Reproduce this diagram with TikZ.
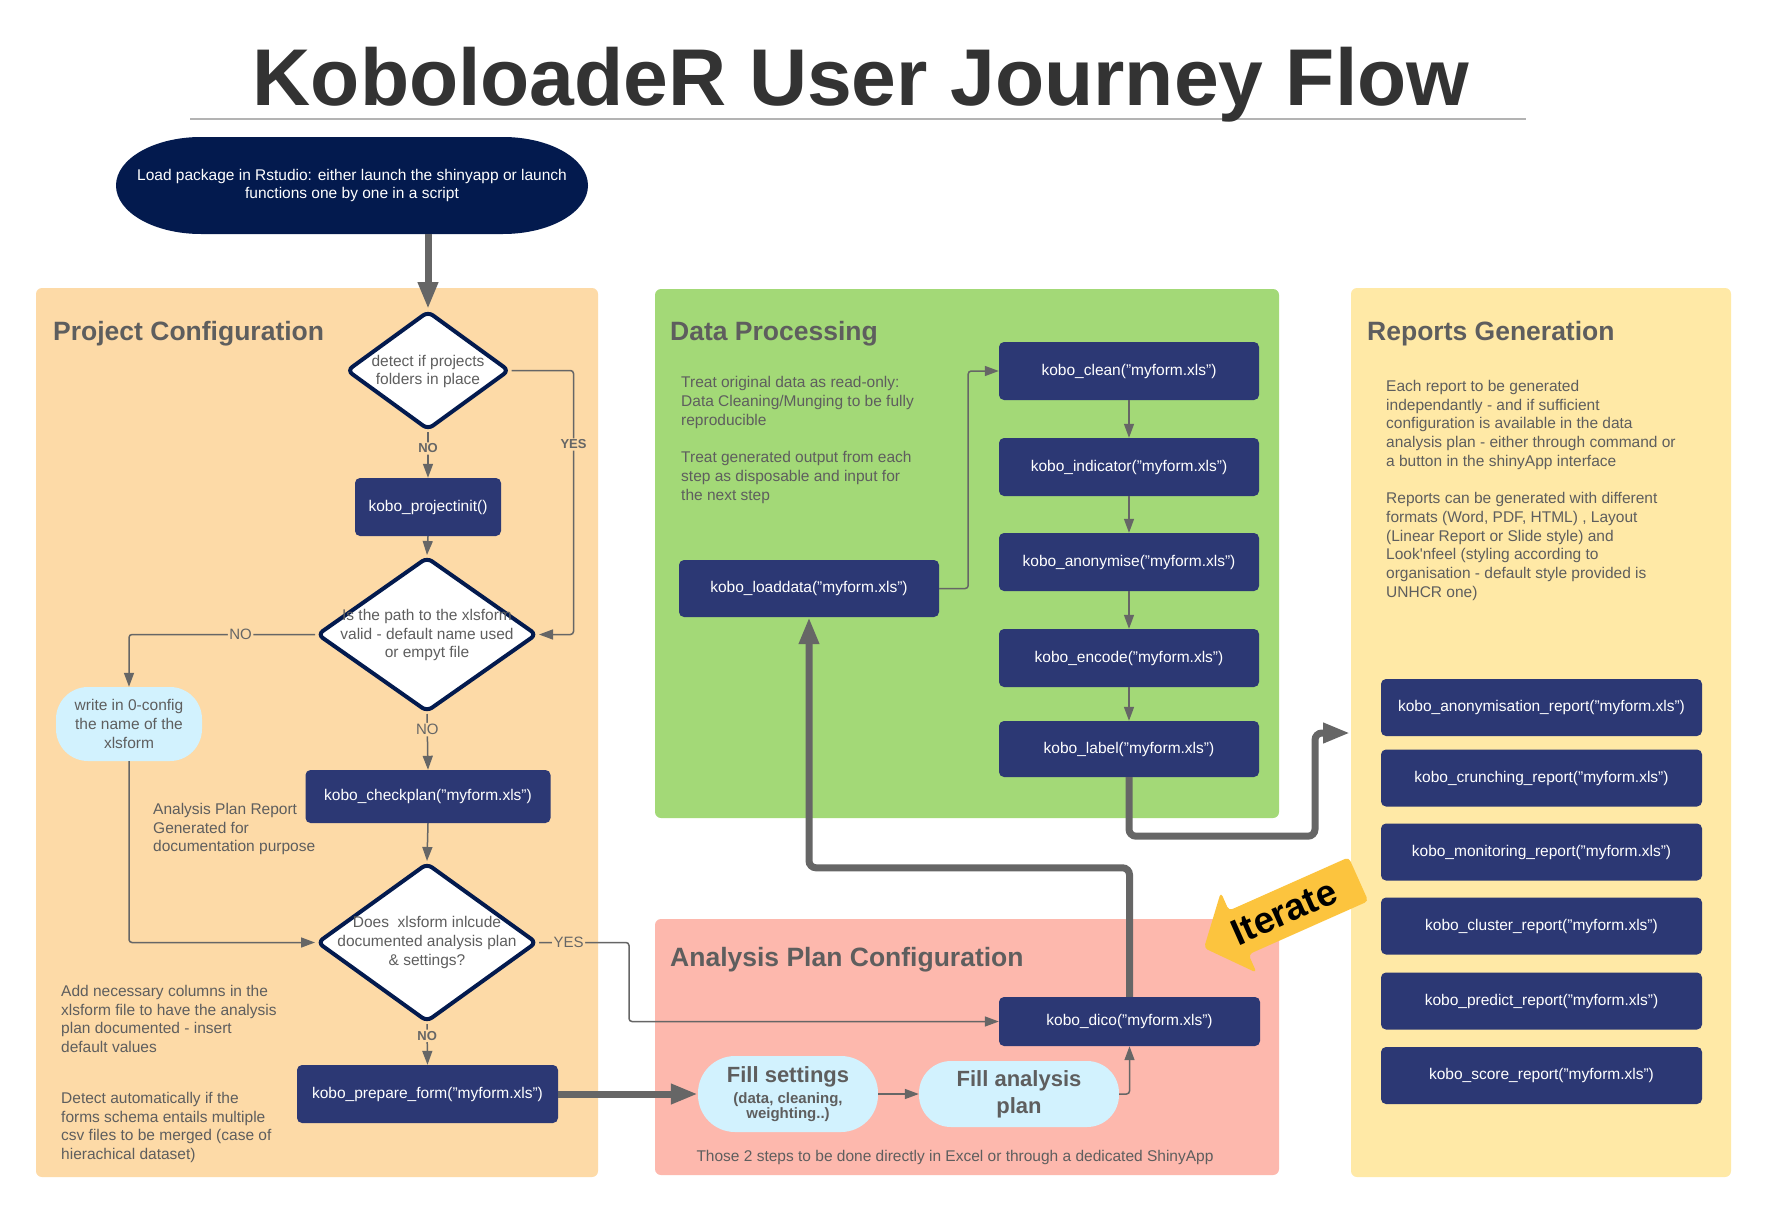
\documentclass[tikz,border=0pt]{standalone}
\usepackage{fontspec}
\setmainfont{Liberation Sans}
\usetikzlibrary{shapes.geometric,arrows.meta,calc}
\definecolor{navy}{HTML}{031A4E}
\definecolor{kblue}{HTML}{2C3874}
\definecolor{peach}{HTML}{FDDAA7}
\definecolor{pgreen}{HTML}{A3D977}
\definecolor{salmon}{HTML}{FDB8AD}
\definecolor{pyellow}{HTML}{FFE9A6}
\definecolor{lblue}{HTML}{D2F2FE}
\definecolor{lgray}{HTML}{666666}
\definecolor{tgray}{HTML}{5E5E5E}
\definecolor{iteratey}{HTML}{FCC43E}
\definecolor{ulgray}{HTML}{B3B3B3}
\definecolor{titlegray}{HTML}{333333}
\newcommand{\fsz}{\fontsize{15.5}{18.7}\selectfont}
\newcommand{\fsmall}{\fontsize{15}{19}\selectfont}
\begin{document}
\begin{tikzpicture}[x=1pt,y=-1pt,
  kbox/.style={rectangle, fill=kblue, rounded corners=5, text=white, font=\fsz, inner sep=0, align=center},
  dia/.style={diamond, draw=navy, line width=4, fill=white, rounded corners=6, inner sep=0},
  dtxt/.style={text=tgray, font=\fontsize{15.5}{18.7}\selectfont, align=center, inner sep=0},
  stad/.style={rectangle, fill=lblue, text=tgray, inner sep=0, align=center},
  head/.style={font=\fontsize{26.5}{30}\selectfont\bfseries, text=tgray, inner sep=0},
  body/.style={font=\fsz, text=tgray, inner sep=0, align=left, anchor=north west},
  lbl/.style={fill=peach, inner sep=1.5, text=lgray, font=\fontsize{15}{15}\selectfont},
  lblb/.style={fill=peach, inner sep=1.5, text=lgray, font=\fontsize{13}{13}\selectfont\bfseries},
  thn/.style={draw=lgray, line width=1.5, rounded corners=3, -{Triangle[length=14,width=10]}},
  thk/.style={draw=lgray, line width=7, rounded corners=7, -{Triangle[length=27,width=19]}},
]
\useasboundingbox (0,0) rectangle (1769,1215);
\fill[white] (0,0) rectangle (1769,1215);

% title
\draw[ulgray, line width=2] (190,118.5) -- (1526,118.5);
\node[font=\fontsize{80.5}{90}\selectfont\bfseries, text=titlegray, anchor=base, inner sep=0] (title) at (861,105) {KoboloadeR User Journey Flow};

% panels
\fill[peach, rounded corners=6] (36,288) rectangle (598,1177);
\fill[pgreen, rounded corners=6] (655,289) rectangle (1279,818);
\fill[salmon, rounded corners=6] (655,919) rectangle (1279,1175);
\fill[pyellow, rounded corners=6] (1351,288) rectangle (1731,1177);

\node[head, anchor=base west] (hpc) at (53,340) {Project Configuration};
\node[head, anchor=base west] (hdp) at (670,340) {Data Processing};
\node[head, anchor=base west] (hap) at (670,966) {Analysis Plan Configuration};
\node[head, anchor=base west] (hrg) at (1367,340) {Reports Generation};

% start
\fill[navy] (201,137) -- (503,137) arc[start angle=-90, end angle=90, x radius=85, y radius=48.5] -- (201,234) arc[start angle=90, end angle=270, x radius=85, y radius=48.5] -- cycle;
\node[minimum width=472, minimum height=97, inner sep=0, text=white, align=center, font=\fontsize{15.5}{18}\selectfont] (start) at (352,185.5) {Load package in Rstudio: either launch the shinyapp or launch\\functions one by one in a script};

% project configuration
\node[dia, minimum width=163, minimum height=119] (d1) at (428,370.5) {};
\node[dtxt] (d1t) at (428,371.5) {detect if projects\\folders in place};
\node[kbox, minimum width=146, minimum height=58] (pinit) at (428,507) {kobo\_projectinit()};
\node[dia, minimum width=220, minimum height=155] (d2) at (427,634.5) {};
\node[dtxt] (d2t) at (427,635) {Is the path to the xlsform\\valid - default name used\\or empyt file};
\node[stad, rounded corners=32, minimum width=146, minimum height=74, font=\fontsize{15.5}{19}\selectfont] (wr) at (129,724) {write in 0-config\\the name of the\\xlsform};
\node[kbox, minimum width=245, minimum height=53] (chk) at (428,796.5) {kobo\_checkplan("myform.xls")};
\node[body] (tapr) at (153,803) {Analysis Plan Report\\Generated for\\documentation purpose};
\node[dia, minimum width=220, minimum height=159] (d3) at (427,942.5) {};
\node[dtxt] (d3t) at (427,942.5) {Does~ xlsform inlcude\\documented analysis plan\\\& settings?};
\node[kbox, minimum width=261, minimum height=58] (prep) at (427.5,1094) {kobo\_prepare\_form("myform.xls")};
\node[body] (tadd) at (61,985) {Add necessary columns in the\\xlsform file to have the analysis\\plan documented - insert\\default values};
\node[body] (tdet) at (61,1092) {Detect automatically if the\\forms schema entails multiple\\csv files to be merged (case of\\hierachical dataset)};

% data processing
\node[body] (tdp) at (681,376.5) {Treat original data as read-only:\\Data Cleaning/Munging to be fully\\reproducible\\[18.7pt]Treat generated output from each\\step as disposable and input for\\the next step};
\node[kbox, minimum width=260, minimum height=57] (ld) at (809,588.5) {kobo\_loaddata("myform.xls")};
\node[kbox, minimum width=260, minimum height=58] (clean) at (1129,371) {kobo\_clean("myform.xls")};
\node[kbox, minimum width=260, minimum height=58] (ind) at (1129,467) {kobo\_indicator("myform.xls")};
\node[kbox, minimum width=260, minimum height=58] (anon) at (1129,562) {kobo\_anonymise("myform.xls")};
\node[kbox, minimum width=260, minimum height=58] (enc) at (1129,658) {kobo\_encode("myform.xls")};
\node[kbox, minimum width=260, minimum height=56] (lab) at (1129,749) {kobo\_label("myform.xls")};

% analysis plan
\node[kbox, minimum width=261, minimum height=49] (dico) at (1129.5,1021.5) {kobo\_dico("myform.xls")};
\node[stad, rounded corners=37, minimum width=180, minimum height=76, font=\bfseries] (fs) at (788,1094) {\fontsize{22}{24}\selectfont Fill settings\\[5pt]\fsmall (data, cleaning,\\\fsmall weighting..)};
\node[stad, rounded corners=32, minimum width=200, minimum height=66, font=\fontsize{22}{27}\selectfont\bfseries] (fa) at (1019,1094) {Fill analysis\\plan};
\node[font=\fsz, text=tgray, inner sep=0] (tthose) at (955,1157) {Those 2 steps to be done directly in Excel or through a dedicated ShinyApp};

% reports
\node[body] (trg) at (1386,380) {Each report to be generated\\independantly - and if sufficient\\configuration is available in the data\\analysis plan - either through command or\\a button in the shinyApp interface\\[18.7pt]Reports can be generated with different\\formats (Word, PDF, HTML) , Layout\\(Linear Report or Slide style) and\\Look\textquotesingle nfeel (styling according to\\organisation - default style provided is\\UNHCR one)};
\node[kbox, minimum width=321, minimum height=57] (r1) at (1541.5,707.5) {kobo\_anonymisation\_report("myform.xls")};
\node[kbox, minimum width=321, minimum height=57] (r2) at (1541.5,778) {kobo\_crunching\_report("myform.xls")};
\node[kbox, minimum width=321, minimum height=57] (r3) at (1541.5,852) {kobo\_monitoring\_report("myform.xls")};
\node[kbox, minimum width=321, minimum height=57] (r4) at (1541.5,926) {kobo\_cluster\_report("myform.xls")};
\node[kbox, minimum width=321, minimum height=57] (r5) at (1541.5,1001) {kobo\_predict\_report("myform.xls")};
\node[kbox, minimum width=321, minimum height=57] (r6) at (1541.5,1075.5) {kobo\_score\_report("myform.xls")};
\coordinate (rin) at (1350,733);

% connectors
\draw[thk, rounded corners=0] (start.south -| d1.north) -- (d1.north);
\draw[thn] (d1.south) -- node[lblb, pos=0.36]{NO} (pinit.north);
\draw[thn] (d1.east) -- ++(62,0) |- node[lblb, pos=0.14]{YES} (d2.east);
\draw[thn] (pinit.south) -- (d2.north);
\draw[thn] (d2.west) -| node[lbl, pos=0.2]{NO} (wr.north);
\draw[thn] (d2.south) -- node[lbl, pos=0.28]{NO} (chk.north);
\draw[thn] (wr.south) |- (d3.west);
\draw[thn] (chk.south) -- (d3.north);
\draw[thn] (d3.east) -- node[lbl, pos=0.33]{YES} ++(90,0) |- (dico.west);
\draw[thn] (d3.south) -- node[lblb, pos=0.29]{NO} (prep.north);
\draw[thk, rounded corners=0] (prep.east) -- (fs.west);
\draw[thn] (fs.east) -- (fa.west);
\draw[thn] (fa.east) -| (dico.south);
\draw[thn] (ld.east) -- ++(29,0) |- (clean.west);
\draw[thn] (clean.south) -- (ind.north);
\draw[thn] (ind.south) -- (anon.north);
\draw[thn] (anon.south) -- (enc.north);
\draw[thn] (enc.south) -- (lab.north);
\draw[thk] (lab.south) -- ++(0,59) -| ([xshift=-35pt]rin) -- (rin);
\draw[thk] (dico.north) -- ++(0,-129) -| (ld.south);

% iterate arrow
\fill[iteratey, rounded corners=4] (1204,948) -- (1220.8,892.3) -- (1228.9,910.6) -- (1348.7,857.3) -- (1368.3,901.1) -- (1248.5,954.4) -- (1256.6,972.7) -- cycle;
\node[rotate=24, font=\fontsize{37}{40}\selectfont\bfseries, inner sep=0] (iter) at (1284,912) {Iterate};
\end{tikzpicture}
\end{document}
